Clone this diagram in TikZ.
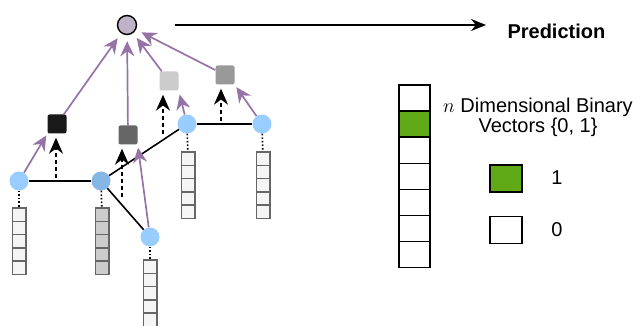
\documentclass[tikz,border=0pt]{standalone}
\usepackage{fix-cm}
\usepackage{fontspec}
\setmainfont{Liberation Sans}
\usetikzlibrary{arrows.meta}

\definecolor{leafblue}{HTML}{99CCFF}
\definecolor{leafdark}{HTML}{86B6E6}
\definecolor{rootfill}{HTML}{C0B3C8}
\definecolor{arrpurple}{HTML}{9673A6}
\definecolor{cellborder}{HTML}{666666}
\definecolor{cellwhite}{HTML}{F5F5F5}
\definecolor{cellgray}{HTML}{CCCCCC}
\definecolor{bitgreen}{HTML}{60A917}

\begin{document}
\begin{tikzpicture}[x=1pt,y=-1pt,
    font=\fontsize{20}{20}\selectfont,
    leaf/.style={circle,fill=leafblue,minimum size=19pt,inner sep=0pt},
    gsq/.style={rectangle,rounded corners=2pt,minimum size=19pt,inner sep=0pt},
    cell/.style={draw=cellborder,line width=1.5pt,minimum width=13.5pt,minimum height=13.3pt,inner sep=0pt},
    lcell/.style={draw=black,line width=1.3pt,minimum width=31pt,minimum height=26.1pt,inner sep=0pt},
    edge/.style={line width=1.6pt},
    parr/.style={draw=arrpurple,line width=1.7pt,-{Stealth[length=15pt,width=14pt]}},
    toroot/.style={parr,shorten >=6pt},
    darr/.style={line width=1.6pt,dash pattern=on 4pt off 3pt,-{Stealth[length=16pt,width=14pt]},shorten >=4pt},
    dotline/.style={line width=1.6pt,dotted}]
    \useasboundingbox (0,0) rectangle (641,326);

    % tree
    \node[circle,draw,line width=1.4pt,fill=rootfill,minimum size=19pt,inner sep=0pt] (root) at (127,25) {};
    \node[gsq,fill=black!90] (blk) at (57,124) {};
    \node[gsq,fill=cellborder] (dk) at (128,135) {};
    \node[gsq,fill=cellgray] (lg) at (169,81) {};
    \node[gsq,fill=black!40] (mg) at (225,75) {};

    \node[leaf] (a) at (19,181) {};
    \node[leaf,fill=leafdark] (b) at (101,181) {};
    \node[leaf] (c) at (150,237) {};
    \node[leaf] (d) at (187,124) {};
    \node[leaf] (e) at (262,124) {};

    \draw[edge] (a) -- (b);
    \draw[edge] (b) -- (d);
    \draw[edge] (b) -- (c);
    \draw[edge] (d) -- (e);

    % vectors under the leaves
    \foreach \n/\x/\y/\f in {a/19/208/cellwhite,b/102/208/cellgray,c/150/260/cellwhite,d/188/152/cellwhite,e/263/152/cellwhite} {
        \foreach \k in {0,...,4}
            \node[cell,fill=\f] (v\n\k) at (\x,{\y+6.65+\k*13.3}) {};
        \draw[dotline] (\n) -- (v\n0);
    }

    \draw[parr,shorten >=2pt] (a) -- (blk.south west);
    \draw[parr,shorten >=3pt] (c) -- (dk.south east);
    \draw[parr,shorten >=4pt] (d) -- (lg.south east);
    \draw[parr,shorten >=3pt] (e) -- (mg.south east);
    \draw[toroot] (blk) -- (root);
    \draw[toroot] (dk) -- (root);
    \draw[toroot] (lg) -- (root);
    \draw[toroot] (mg) -- (root);

    \coordinate (ab) at (56,178);
    \coordinate (bc) at (122,197);
    \coordinate (bd) at (163,134);
    \coordinate (de) at (221,121);
    \draw[darr] (ab) -- (ab |- blk.south);
    \draw[darr] (bc) -- (bc |- dk.south);
    \draw[darr] (bd) -- (bd |- lg.south);
    \draw[darr] (de) -- (de |- mg.south);

    \node[font=\fontsize{20}{20}\selectfont\bfseries,anchor=west] (pred) at (504,31.5) {Prediction};
    \draw[line width=1.4pt,-{Stealth[length=15pt,width=12pt]},shorten <=38pt,shorten >=18pt] (root) -- (root -| pred.west);

    % legend
    \foreach \k/\f in {0/white,1/bitgreen,2/white,3/white,4/white,5/white,6/white}
        \node[lcell,fill=\f] (l\k) at (414.5,{98+\k*26.1}) {};
    \node[align=center] (cap) at (538,117) {$n$ Dimensional Binary\\Vectors \{0, 1\}};
    \node[lcell,minimum width=32pt,minimum height=27pt,fill=bitgreen] (one) at (506,178.5) {};
    \node[lcell,minimum width=32pt,minimum height=27pt] (zero) at (506,230) {};
    \node (onel) at (557,178) {1};
    \node (zerol) at (557,230) {0};
\end{tikzpicture}
\end{document}
